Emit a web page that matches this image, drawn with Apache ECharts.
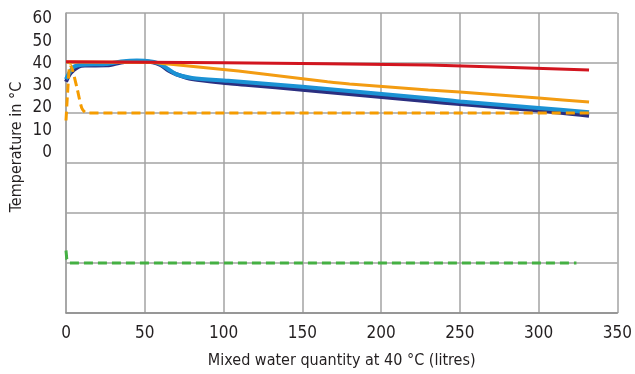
<!DOCTYPE html>
<html>
<head>
<meta charset="utf-8">
<script src="https://cdn.jsdelivr.net/npm/echarts@6/dist/echarts.min.js"></script>
<style>
  html, body { margin: 0; padding: 0; background: #fff; }
  #chart { width: 635px; height: 374px; }
</style>
</head>
<body>
<div id="chart"></div>
<script>
// temperature (°C) against mixed water quantity (litres)
const redLine = [[0, 40.5], [100, 40.1], [230, 39.2], [332, 37.2]];
const orangeLine = [[0, 40.4], [55, 40.2], [65, 39.6], [103, 37.2], [116, 36.3], [166, 32.5],
  [180, 31.6], [230, 29.2], [250, 28.4], [300, 26], [332, 24.4]];
const lightBlueLine = [[0, 33.5], [2, 36], [5, 38.5], [10, 39.3], [25, 39.6], [35, 40.6], [45, 41],
  [55, 40.5], [60, 39.5], [65, 37.5], [70, 35.5], [80, 34], [103, 32.9], [150, 30.5], [230, 25.9],
  [250, 24.6], [300, 22], [332, 20.3]];
const navyLine = [[0, 32.5], [3, 36], [8, 38.5], [12, 39], [26, 39.1], [35, 40.2], [45, 40.8],
  [55, 40.3], [60, 39.2], [65, 37], [70, 35.5], [80, 33.6], [103, 31.9], [116, 31.2], [150, 29.3],
  [230, 24.7], [250, 23.6], [300, 21], [332, 18.9]];
const orangeDashed = [[0, 17], [1, 28], [2.5, 39.5], [4, 37.5], [7, 30], [10, 22], [13, 20], [332, 20]];
const greenDashed = [[0, -35], [0.5, -38.5], [2, -40], [324, -40]];

const xTicks = { min: 0, max: 350, step: 50 };
const tempTicks = { min: 0, max: 60, step: 10 };

const font = "'Liberation Sans Narrow', 'DejaVu Sans Condensed', sans-serif";
const textColor = '#231f20';
const gridColor = '#a3a3a3';

const chart = echarts.init(document.getElementById('chart'));

function lineSeries(data, color, width, dashed, smooth) {
  return {
    type: 'line',
    data: data,
    showSymbol: false,
    symbol: 'none',
    smooth: smooth,
    lineStyle: { color: color, width: width, type: dashed ? [9, 5] : 'solid' },
    animation: false
  };
}

const option = {
  animation: false,
  grid: [
    { left: 66, right: 13, top: 13, bottom: 61 },
    { left: 66, right: 13, top: 19, height: 133.5 }
  ],
  xAxis: [{
    type: 'value',
    min: xTicks.min,
    max: xTicks.max,
    interval: xTicks.step,
    axisLine: { onZero: false, lineStyle: { color: '#8c8c8c', width: 1.5 } },
    axisTick: { show: false },
    splitLine: { lineStyle: { color: gridColor, width: 1.5 } },
    axisLabel: { color: textColor, fontFamily: font, fontSize: 17, margin: 12 },
    name: 'Mixed water quantity at 40 °C (litres)',
    nameLocation: 'middle',
    nameGap: 40,
    nameTextStyle: { color: textColor, fontFamily: font, fontSize: 16 }
  }, {
    gridIndex: 1,
    type: 'value',
    show: false
  }],
  yAxis: [{
    type: 'value',
    min: -60,
    max: 60,
    interval: 20,
    axisLabel: { show: false },
    axisTick: { show: false },
    axisLine: { show: true, onZero: false, lineStyle: { color: gridColor, width: 1.5 } },
    splitLine: { lineStyle: { color: gridColor, width: 1.5 } }
  }, {
    gridIndex: 1,
    type: 'value',
    min: tempTicks.min,
    max: tempTicks.max,
    interval: tempTicks.step,
    axisLine: { show: false },
    axisTick: { show: false },
    splitLine: { show: false },
    axisLabel: { color: textColor, fontFamily: font, fontSize: 17, margin: 14 }
  }],
  graphic: [{
    type: 'text',
    x: 17,
    y: 147,
    rotation: Math.PI / 2,
    style: {
      text: 'Temperature in °C',
      fill: textColor,
      font: '16px ' + font,
      align: 'center',
      verticalAlign: 'middle'
    }
  }],
  series: [
    lineSeries(navyLine, '#2b2f80', 4, false, 0.3),
    lineSeries(lightBlueLine, '#1b92d4', 4, false, 0.3),
    lineSeries(orangeLine, '#f39c12', 3, false, 0.2),
    lineSeries(redLine, '#d2151f', 3, false, 0.2),
    lineSeries(orangeDashed, '#f59c00', 3, true, 0.2),
    lineSeries(greenDashed, '#45b043', 3, true, false)
  ]
};

chart.setOption(option);
</script>
</body>
</html>
